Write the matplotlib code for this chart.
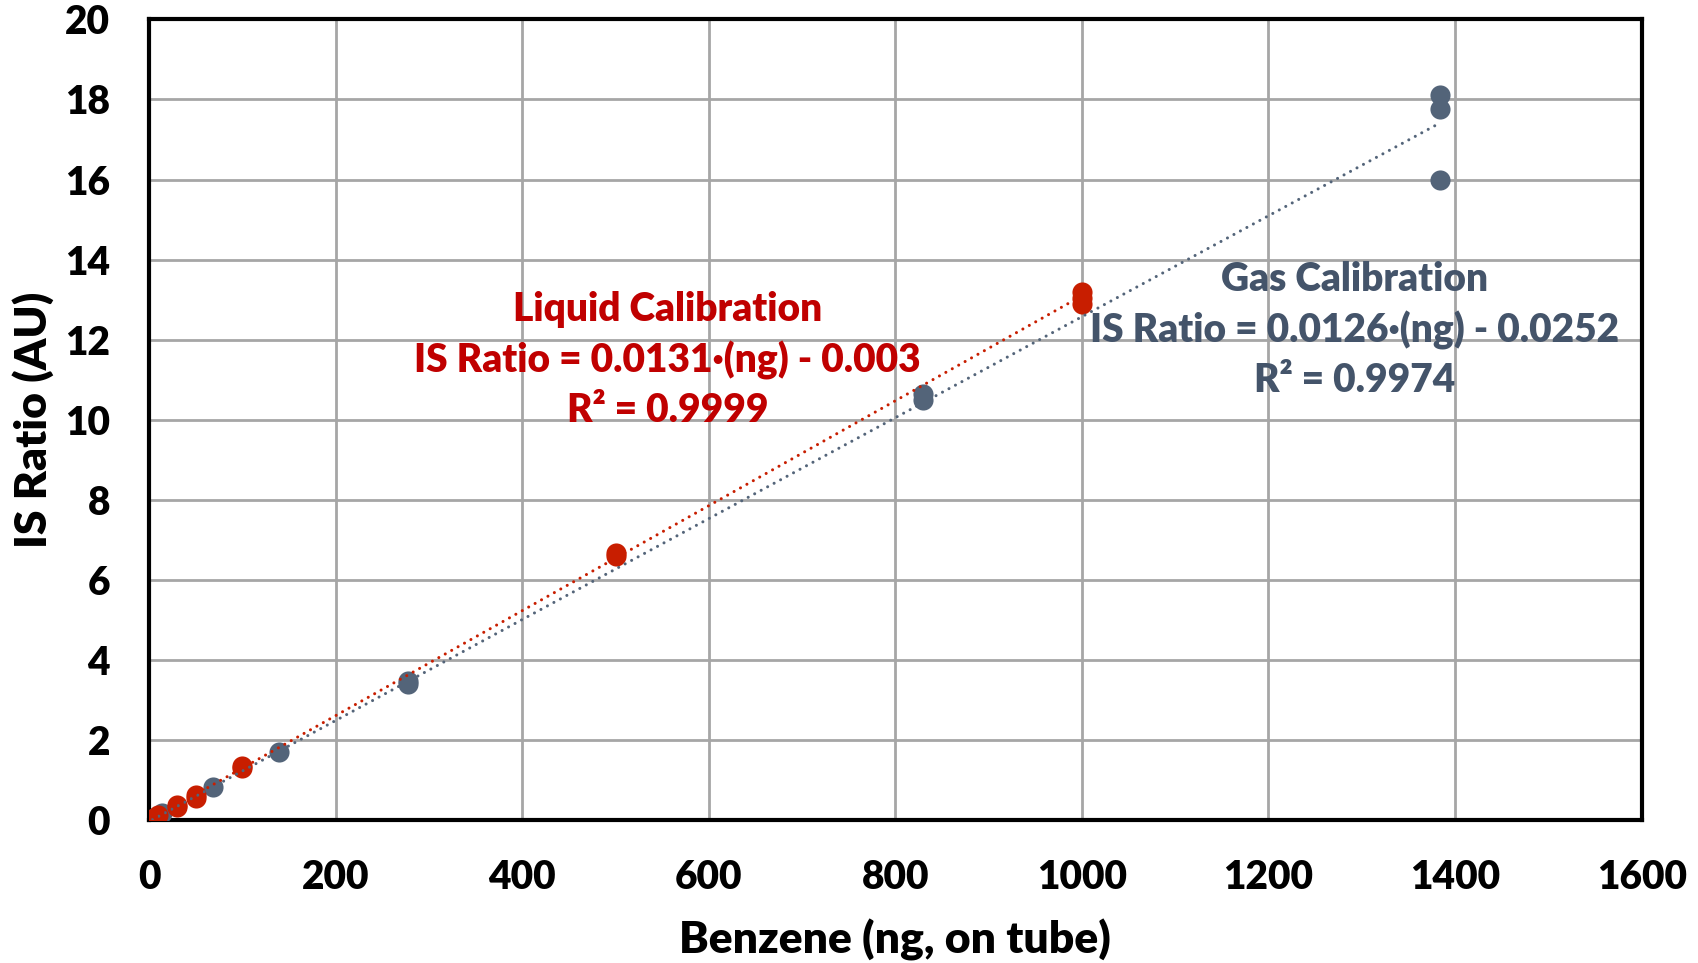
import numpy as np
import matplotlib
matplotlib.use("Agg")
import matplotlib.pyplot as plt

# gas calibration points (ng on tube, IS ratio)
gas_x = [3.5, 7, 14, 69, 139, 278, 278, 830, 830, 1384, 1384, 1384]
gas_y = [0.04, 0.09, 0.18, 0.83, 1.70, 3.48, 3.40, 10.65, 10.50, 18.11, 17.77, 16.0]

# liquid calibration points
liq_x = [1, 5, 10, 30, 30, 50, 50, 100, 100, 500, 500, 1000, 1000, 1000]
liq_y = [0.02, 0.07, 0.13, 0.33, 0.38, 0.57, 0.64, 1.30, 1.37, 6.60, 6.68, 12.90, 13.05, 13.20]

# trendline coefficients (slope, intercept)
gas_fit = (0.0126, -0.0252)
liq_fit = (0.0131, -0.003)

gas_label = "Gas Calibration\nIS Ratio = 0.0126\u00b7(ng) - 0.0252\nR\u00b2 = 0.9974"
liq_label = "Liquid Calibration\nIS Ratio = 0.0131\u00b7(ng) - 0.003\nR\u00b2 = 0.9999"

GAS_C = "#536479"
LIQ_C = "#C81E00"
GAS_TXT = "#44546A"
LIQ_TXT = "#C00000"

plt.rcParams['font.family'] = ['Lato', 'DejaVu Sans']
plt.rcParams['font.weight'] = 'heavy'

fig = plt.figure(figsize=(16.98, 9.63), dpi=100)
ax = fig.add_axes([0.0878, 0.148, 0.879, 0.832])

ax.scatter(gas_x, gas_y, s=210, color=GAS_C, zorder=3, linewidths=0)
ax.scatter(liq_x, liq_y, s=210, color=LIQ_C, zorder=3, linewidths=0)

xg = np.array([min(gas_x), max(gas_x)])
xl = np.array([min(liq_x), max(liq_x)])
ax.plot(xg, gas_fit[0] * xg + gas_fit[1], color=GAS_C, lw=2.2,
        linestyle=(0, (0.01, 2.4)), dash_capstyle='round', zorder=4)
ax.plot(xl, liq_fit[0] * xl + liq_fit[1], color=LIQ_C, lw=2.2,
        linestyle=(0, (0.01, 2.4)), dash_capstyle='round', zorder=4)

ax.text(556, 11.5, liq_label, color=LIQ_TXT, fontsize=28, fontweight='heavy',
        ha='center', va='center', linespacing=1.4, zorder=5)
ax.text(1292, 12.24, gas_label, color=GAS_TXT, fontsize=28, fontweight='heavy',
        ha='center', va='center', linespacing=1.4, zorder=5)

ax.set_xlim(0, 1600)
ax.set_ylim(0, 20)
ax.set_xticks(np.arange(0, 1601, 200))
ax.set_yticks(np.arange(0, 21, 2))
ax.grid(True, color='#A6A6A6', lw=2)
ax.set_axisbelow(True)
for s in ax.spines.values():
    s.set_linewidth(3)
    s.set_color('black')
ax.tick_params(axis='x', length=0, labelsize=28, pad=28)
ax.tick_params(axis='y', length=0, labelsize=28, pad=28)
for lab in ax.get_xticklabels() + ax.get_yticklabels():
    lab.set_fontweight('heavy')

ax.set_xlabel("Benzene (ng, on tube)", fontsize=32, fontweight='heavy', labelpad=16)
ax.set_ylabel("IS Ratio (AU)", fontsize=32, fontweight='heavy', labelpad=8)

fig.savefig("out.png", dpi=100)
